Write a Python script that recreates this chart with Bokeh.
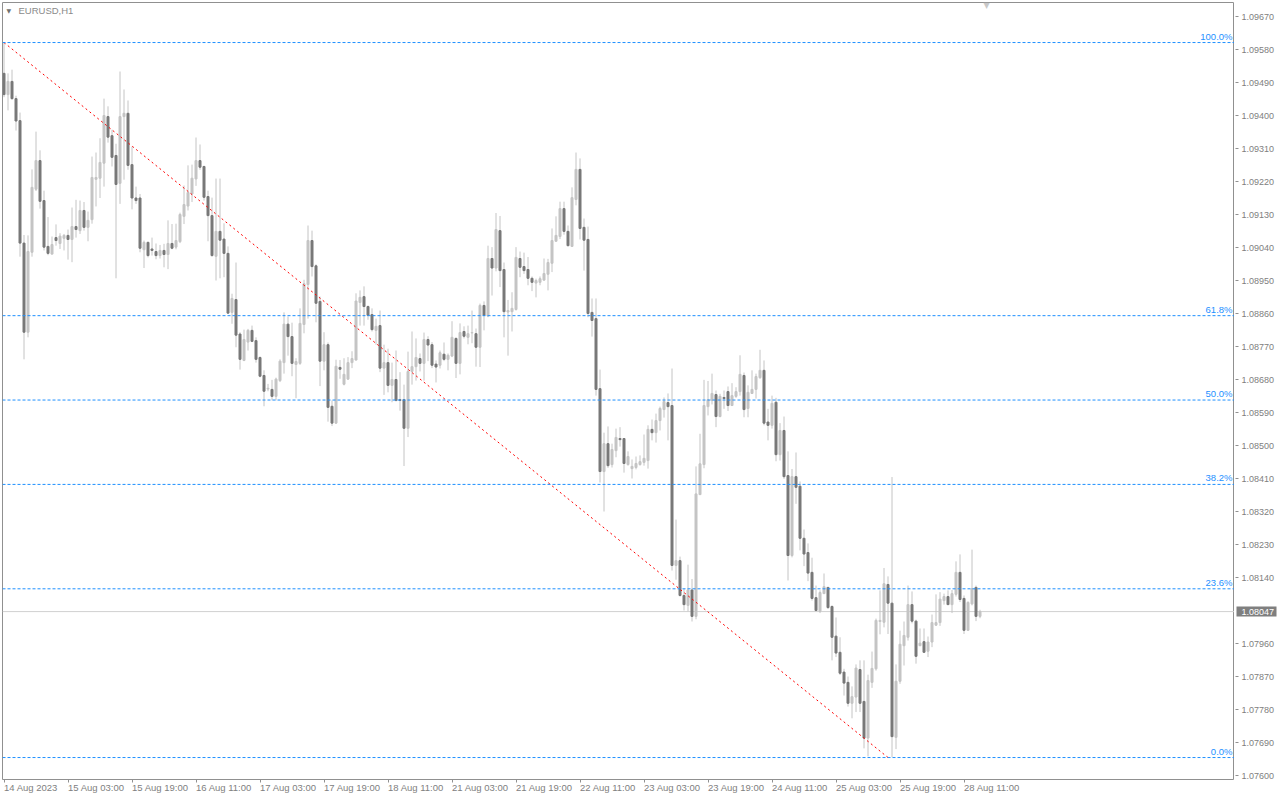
from bokeh.plotting import figure
from bokeh.layouts import row
from bokeh.models import (Range1d, FixedTicker, Span, Label, ColumnDataSource)
from bokeh.core.properties import value
from bokeh.embed import file_html
from bokeh.resources import INLINE

symbol_label = "EURUSD,H1"

# time axis (bar index -> label), one label every 16 H1 bars
tick_bars = [0, 16, 32, 48, 64, 80, 96, 112, 128, 144, 160, 176, 192, 208, 224, 240]
tick_labels = ["14 Aug 2023", "15 Aug 03:00", "15 Aug 19:00", "16 Aug 11:00",
               "17 Aug 03:00", "17 Aug 19:00", "18 Aug 11:00", "21 Aug 03:00",
               "21 Aug 19:00", "22 Aug 11:00", "23 Aug 03:00", "23 Aug 19:00",
               "24 Aug 11:00", "25 Aug 03:00", "25 Aug 19:00", "28 Aug 11:00"]

price_ticks = [1.07600, 1.07690, 1.07780, 1.07870, 1.07960, 1.08140, 1.08230,
               1.08320, 1.08410, 1.08500, 1.08590, 1.08680, 1.08770, 1.08860,
               1.08950, 1.09040, 1.09130, 1.09220, 1.09310, 1.09400, 1.09490,
               1.09580, 1.09670]

opens = [1.09515, 1.09457, 1.09493, 1.09446, 1.09386, 1.09052, 1.08809, 1.09027, 1.09199, 1.09277,
         1.09168, 1.09043, 1.09022, 1.09067, 1.09051, 1.09065, 1.09073, 1.09062, 1.09097, 1.09086,
         1.09141, 1.09095, 1.09116, 1.09226, 1.09229, 1.09270, 1.09397, 1.09345, 1.09291, 1.09215,
         1.09397, 1.09406, 1.09266, 1.09175, 1.09175, 1.09034, 1.09054, 1.09036, 1.09029, 1.09018,
         1.09032, 1.09021, 1.09051, 1.09041, 1.09056, 1.09125, 1.09153, 1.09186, 1.09227, 1.09277,
         1.09261, 1.09179, 1.09127, 1.09016, 1.09084, 1.09063, 1.09024, 1.08863, 1.08898, 1.08804,
         1.08732, 1.08782, 1.08814, 1.08786, 1.08740, 1.08691, 1.08654, 1.08653, 1.08634, 1.08677,
         1.08726, 1.08831, 1.08797, 1.08721, 1.08724, 1.08830, 1.08939, 1.09059, 1.08990, 1.08893,
         1.08730, 1.08775, 1.08607, 1.08561, 1.08713, 1.08667, 1.08681, 1.08726, 1.08733, 1.08890,
         1.08906, 1.08879, 1.08857, 1.08814, 1.08827, 1.08711, 1.08726, 1.08664, 1.08680, 1.08625,
         1.08625, 1.08547, 1.08702, 1.08715, 1.08737, 1.08724, 1.08789, 1.08775, 1.08722, 1.08719,
         1.08749, 1.08735, 1.08744, 1.08792, 1.08724, 1.08811, 1.08795, 1.08807, 1.08805, 1.08768,
         1.08882, 1.08853, 1.09010, 1.08984, 1.09086, 1.08980, 1.08864, 1.08865, 1.08871, 1.09010,
         1.08988, 1.08980, 1.08956, 1.08943, 1.08945, 1.08951, 1.08967, 1.08997, 1.09057, 1.09070,
         1.09146, 1.09084, 1.09043, 1.09171, 1.09253, 1.09095, 1.09062, 1.08863, 1.08846, 1.08655,
         1.08429, 1.08505, 1.08448, 1.08486, 1.08519, 1.08519, 1.08448, 1.08437, 1.08440, 1.08448,
         1.08454, 1.08459, 1.08544, 1.08535, 1.08568, 1.08598, 1.08617, 1.08609, 1.08173, 1.08186,
         1.08091, 1.08064, 1.08106, 1.08034, 1.08366, 1.08448, 1.08606, 1.08623, 1.08639, 1.08579,
         1.08631, 1.08647, 1.08609, 1.08634, 1.08647, 1.08691, 1.08601, 1.08642, 1.08653, 1.08685,
         1.08705, 1.08564, 1.08555, 1.08618, 1.08475, 1.08541, 1.08418, 1.08200, 1.08415, 1.08389,
         1.08247, 1.08208, 1.08154, 1.08085, 1.08048, 1.08096, 1.08113, 1.08061, 1.07980, 1.07936,
         1.07882, 1.07854, 1.07797, 1.07814, 1.07889, 1.07802, 1.07702, 1.07854, 1.07891, 1.08020,
         1.08018, 1.08121, 1.08070, 1.07704, 1.07857, 1.07954, 1.07977, 1.08066, 1.08021, 1.07954,
         1.07965, 1.07939, 1.07964, 1.08010, 1.08017, 1.08077, 1.08088, 1.08066, 1.08094, 1.08154,
         1.08083, 1.07996, 1.08068, 1.08113, 1.08034]

highs = [1.09599, 1.09515, 1.09525, 1.09454, 1.09408, 1.09074, 1.09073, 1.09253, 1.09356, 1.09305,
         1.09195, 1.09123, 1.09070, 1.09103, 1.09079, 1.09077, 1.09089, 1.09149, 1.09170, 1.09168,
         1.09164, 1.09138, 1.09288, 1.09299, 1.09338, 1.09446, 1.09425, 1.09361, 1.09323, 1.09520,
         1.09471, 1.09441, 1.09315, 1.09206, 1.09186, 1.09059, 1.09056, 1.09067, 1.09051, 1.09047,
         1.09050, 1.09114, 1.09104, 1.09105, 1.09135, 1.09209, 1.09264, 1.09266, 1.09340, 1.09321,
         1.09263, 1.09195, 1.09176, 1.09228, 1.09228, 1.09106, 1.09043, 1.08914, 1.08999, 1.08809,
         1.08816, 1.08818, 1.08827, 1.08795, 1.08743, 1.08705, 1.08668, 1.08679, 1.08685, 1.08735,
         1.08863, 1.08852, 1.08835, 1.08738, 1.08874, 1.08952, 1.09100, 1.09086, 1.08994, 1.08906,
         1.08809, 1.08781, 1.08623, 1.08734, 1.08733, 1.08738, 1.08741, 1.08757, 1.08915, 1.08923,
         1.08934, 1.08882, 1.08874, 1.08846, 1.08868, 1.08775, 1.08764, 1.08726, 1.08759, 1.08700,
         1.08666, 1.08756, 1.08811, 1.08792, 1.08751, 1.08808, 1.08798, 1.08782, 1.08732, 1.08759,
         1.08781, 1.08751, 1.08839, 1.08795, 1.08833, 1.08825, 1.08827, 1.08868, 1.08819, 1.08887,
         1.08893, 1.09045, 1.09041, 1.09134, 1.09126, 1.08999, 1.08897, 1.08918, 1.09041, 1.09029,
         1.09026, 1.09014, 1.08961, 1.08955, 1.08961, 1.09010, 1.09009, 1.09092, 1.09125, 1.09165,
         1.09165, 1.09100, 1.09204, 1.09299, 1.09283, 1.09119, 1.09097, 1.08901, 1.08901, 1.08707,
         1.08535, 1.08552, 1.08505, 1.08546, 1.08550, 1.08520, 1.08484, 1.08462, 1.08470, 1.08473,
         1.08530, 1.08555, 1.08571, 1.08587, 1.08606, 1.08631, 1.08642, 1.08710, 1.08298, 1.08197,
         1.08109, 1.08175, 1.08136, 1.08443, 1.08532, 1.08679, 1.08676, 1.08696, 1.08650, 1.08641,
         1.08650, 1.08661, 1.08670, 1.08659, 1.08746, 1.08699, 1.08664, 1.08705, 1.08696, 1.08761,
         1.08732, 1.08600, 1.08636, 1.08630, 1.08561, 1.08579, 1.08484, 1.08436, 1.08481, 1.08402,
         1.08271, 1.08233, 1.08194, 1.08118, 1.08105, 1.08151, 1.08114, 1.08064, 1.08031, 1.07977,
         1.07891, 1.07870, 1.07843, 1.07903, 1.07914, 1.07914, 1.07875, 1.07938, 1.08028, 1.08105,
         1.08166, 1.08143, 1.08414, 1.07903, 1.07995, 1.08020, 1.08118, 1.08102, 1.08025, 1.08001,
         1.08001, 1.07979, 1.08039, 1.08094, 1.08100, 1.08096, 1.08105, 1.08106, 1.08184, 1.08203,
         1.08091, 1.08075, 1.08216, 1.08118, 1.08052]

lows = [1.09450, 1.09414, 1.09443, 1.09359, 1.09015, 1.08735, 1.08795, 1.09015, 1.09194, 1.09146,
        1.09032, 1.09019, 1.09021, 1.09045, 1.09036, 1.09032, 1.09007, 1.09000, 1.09067, 1.09077,
        1.09086, 1.09057, 1.09105, 1.09152, 1.09175, 1.09206, 1.09326, 1.09261, 1.08956, 1.09159,
        1.09225, 1.09252, 1.09144, 1.09159, 1.09027, 1.08984, 1.09013, 1.09018, 1.09008, 1.09010,
        1.08986, 1.08981, 1.09035, 1.09035, 1.09052, 1.09104, 1.09141, 1.09164, 1.09208, 1.09252,
        1.09168, 1.09057, 1.09015, 1.08950, 1.08956, 1.08959, 1.08859, 1.08832, 1.08768, 1.08707,
        1.08730, 1.08759, 1.08782, 1.08726, 1.08686, 1.08607, 1.08648, 1.08623, 1.08623, 1.08673,
        1.08696, 1.08745, 1.08689, 1.08629, 1.08720, 1.08806, 1.08846, 1.08961, 1.08836, 1.08662,
        1.08705, 1.08565, 1.08553, 1.08559, 1.08682, 1.08664, 1.08679, 1.08711, 1.08732, 1.08827,
        1.08827, 1.08843, 1.08811, 1.08775, 1.08700, 1.08638, 1.08645, 1.08618, 1.08620, 1.08595,
        1.08444, 1.08523, 1.08666, 1.08677, 1.08702, 1.08677, 1.08730, 1.08711, 1.08672, 1.08710,
        1.08730, 1.08705, 1.08741, 1.08684, 1.08694, 1.08792, 1.08776, 1.08779, 1.08715, 1.08714,
        1.08814, 1.08850, 1.08909, 1.08975, 1.08932, 1.08795, 1.08745, 1.08811, 1.08868, 1.08959,
        1.08968, 1.08937, 1.08921, 1.08904, 1.08937, 1.08950, 1.08923, 1.08973, 1.09057, 1.09063,
        1.09075, 1.09043, 1.09043, 1.09155, 1.09062, 1.08977, 1.08850, 1.08797, 1.08636, 1.08399,
        1.08320, 1.08439, 1.08440, 1.08468, 1.08497, 1.08426, 1.08445, 1.08410, 1.08435, 1.08445,
        1.08445, 1.08437, 1.08514, 1.08508, 1.08541, 1.08576, 1.08514, 1.08159, 1.08134, 1.08088,
        1.08050, 1.08048, 1.08020, 1.08026, 1.08366, 1.08438, 1.08582, 1.08612, 1.08550, 1.08577,
        1.08600, 1.08594, 1.08609, 1.08630, 1.08636, 1.08577, 1.08577, 1.08641, 1.08628, 1.08682,
        1.08555, 1.08514, 1.08546, 1.08457, 1.08459, 1.08409, 1.08132, 1.08195, 1.08341, 1.08214,
        1.08171, 1.08130, 1.08077, 1.08048, 1.08043, 1.08095, 1.08054, 1.07914, 1.07923, 1.07874,
        1.07818, 1.07788, 1.07756, 1.07773, 1.07773, 1.07674, 1.07652, 1.07839, 1.07886, 1.07985,
        1.08004, 1.07986, 1.07650, 1.07672, 1.07850, 1.07900, 1.07968, 1.08015, 1.07905, 1.07953,
        1.07934, 1.07923, 1.07950, 1.08008, 1.08008, 1.08066, 1.08066, 1.08043, 1.08088, 1.08073,
        1.07986, 1.07994, 1.08064, 1.08021, 1.08029]

closes = [1.09457, 1.09493, 1.09446, 1.09385, 1.09052, 1.08809, 1.09029, 1.09204, 1.09277, 1.09166,
          1.09041, 1.09024, 1.09048, 1.09059, 1.09071, 1.09073, 1.09062, 1.09097, 1.09089, 1.09141,
          1.09095, 1.09114, 1.09231, 1.09231, 1.09272, 1.09400, 1.09341, 1.09286, 1.09212, 1.09397,
          1.09406, 1.09264, 1.09175, 1.09168, 1.09038, 1.09054, 1.09018, 1.09032, 1.09018, 1.09032,
          1.09021, 1.09051, 1.09038, 1.09059, 1.09130, 1.09157, 1.09190, 1.09229, 1.09277, 1.09259,
          1.09177, 1.09127, 1.09018, 1.09084, 1.09060, 1.09024, 1.08861, 1.08901, 1.08801, 1.08735,
          1.08789, 1.08814, 1.08784, 1.08735, 1.08689, 1.08648, 1.08656, 1.08634, 1.08681, 1.08730,
          1.08831, 1.08797, 1.08724, 1.08729, 1.08833, 1.08941, 1.09059, 1.08988, 1.08888, 1.08730,
          1.08775, 1.08604, 1.08561, 1.08716, 1.08708, 1.08694, 1.08726, 1.08737, 1.08894, 1.08904,
          1.08879, 1.08855, 1.08816, 1.08825, 1.08711, 1.08726, 1.08664, 1.08680, 1.08623, 1.08623,
          1.08547, 1.08702, 1.08715, 1.08740, 1.08724, 1.08789, 1.08774, 1.08719, 1.08714, 1.08753,
          1.08735, 1.08746, 1.08795, 1.08724, 1.08808, 1.08798, 1.08805, 1.08808, 1.08768, 1.08882,
          1.08855, 1.09010, 1.08984, 1.09089, 1.08977, 1.08865, 1.08868, 1.08874, 1.09013, 1.08986,
          1.08977, 1.08956, 1.08945, 1.08950, 1.08955, 1.08969, 1.08999, 1.09059, 1.09073, 1.09146,
          1.09084, 1.09045, 1.09176, 1.09253, 1.09092, 1.09060, 1.08860, 1.08841, 1.08653, 1.08429,
          1.08505, 1.08445, 1.08489, 1.08522, 1.08516, 1.08451, 1.08470, 1.08443, 1.08451, 1.08456,
          1.08465, 1.08544, 1.08535, 1.08568, 1.08601, 1.08620, 1.08606, 1.08173, 1.08186, 1.08091,
          1.08066, 1.08106, 1.08034, 1.08368, 1.08450, 1.08609, 1.08625, 1.08642, 1.08579, 1.08634,
          1.08628, 1.08609, 1.08636, 1.08647, 1.08694, 1.08598, 1.08645, 1.08653, 1.08688, 1.08705,
          1.08561, 1.08555, 1.08615, 1.08475, 1.08541, 1.08415, 1.08200, 1.08415, 1.08386, 1.08247,
          1.08204, 1.08152, 1.08083, 1.08050, 1.08099, 1.08115, 1.08058, 1.07977, 1.07934, 1.07879,
          1.07852, 1.07797, 1.07815, 1.07893, 1.07797, 1.07702, 1.07859, 1.07892, 1.08023, 1.08023,
          1.08123, 1.08070, 1.07706, 1.07857, 1.07958, 1.07982, 1.08066, 1.08021, 1.07925, 1.07961,
          1.07936, 1.07964, 1.08017, 1.08017, 1.08081, 1.08088, 1.08066, 1.08096, 1.08154, 1.08080,
          1.07996, 1.08072, 1.08110, 1.08034, 1.08047]

last_price = 1.08047

# Fibonacci retracement anchors
fib_high = 1.09599
fib_low = 1.07649
fib_start_bar = 0
fib_end_bar = 221
fib_ratios = [1.0, 0.618, 0.5, 0.382, 0.236, 0.0]
fib_names = ["100.0%", "61.8%", "50.0%", "38.2%", "23.6%", "0.0%"]

# ---------------------------------------------------------------- styling
BULL = "#C4C4C4"
BEAR = "#787878"
WICK = "#C4C4C4"
FIB = "#1E90FF"
AXIS_TXT = "#808080"
BORDER = "#909090"
FONT = "Liberation Sans"

n = len(opens)
xs = list(range(n))
tops = [max(o, c) for o, c in zip(opens, closes)]
bottoms = [min(o, c) for o, c in zip(opens, closes)]
colors = [BULL if c >= o else BEAR for o, c in zip(opens, closes)]

src = ColumnDataSource(dict(x=xs, high=highs, low=lows, top=tops, bottom=bottoms, color=colors))

yr = Range1d(1.075891, 1.097082)

p = figure(frame_width=1232, frame_height=777,
           x_range=Range1d(-0.375, 307.625), y_range=yr,
           y_axis_location=None,
           output_backend="svg", toolbar_location=None,
           min_border_left=0, min_border_top=0,
           min_border_right=0, min_border_bottom=19,
           background_fill_color="white", border_fill_color="white")
p.grid.visible = False
p.outline_line_color = BORDER
p.outline_line_width = 1

# bid line (behind candles)
p.add_layout(Span(location=last_price, dimension="width", line_color="#D0D0D0",
                  line_width=1, level="underlay"))

p.segment(x0="x", y0="low", x1="x", y1="high", line_color=WICK, line_width=1, source=src)
p.vbar(x="x", width=0.5, top="top", bottom="bottom", fill_color="color",
       line_color="color", line_width=1, source=src)

# fibonacci levels
for r, name in zip(fib_ratios, fib_names):
    lvl = fib_low + r * (fib_high - fib_low)
    p.add_layout(Span(location=lvl, dimension="width", line_color=FIB,
                      line_dash="3 2", line_width=1))
    p.add_layout(Label(x=307.125, y=lvl, text=name, text_align="right",
                       text_baseline="bottom", y_offset=1, text_color=FIB,
                       text_font=FONT, text_font_size="9.5px"))

# trend (fibo base) line
p.line(x=[fib_start_bar, fib_end_bar], y=[fib_high, fib_low],
       line_color="#FF0000", line_dash="2 3", line_width=1)

# time axis
xa = p.xaxis[0]
xa.ticker = FixedTicker(ticks=tick_bars)
xa.major_label_overrides = {b: t for b, t in zip(tick_bars, tick_labels)}
xa.major_label_orientation = -0.0001
xa.axis_line_color = None
xa.major_tick_line_color = BORDER
xa.major_tick_out = 3
xa.major_tick_in = 0
xa.minor_tick_line_color = None
xa.major_label_standoff = 5
xa.major_label_text_font = FONT
xa.major_label_text_font_size = "9.5px"
xa.major_label_text_color = AXIS_TXT

# symbol caption
p.add_layout(Label(x=4, y=769, x_units="screen", y_units="screen", text="\u25BC",
                   text_color="#707070", text_font="DejaVu Sans", text_font_size="6px",
                   text_baseline="middle"))
p.add_layout(Label(x=16, y=769, x_units="screen", y_units="screen", text=symbol_label,
                   text_color="#8A8A8A", text_font=FONT, text_font_size="9.5px",
                   text_baseline="middle"))
# chart-shift marker
p.add_layout(Label(x=984, y=774, x_units="screen", y_units="screen", text="\u25BC",
                   text_color="#C8C8C8", text_font="DejaVu Sans", text_font_size="8px",
                   text_align="center", text_baseline="middle"))

# ---------------------------------------------------------------- price scale
scale = figure(frame_width=44, frame_height=777,
               x_range=Range1d(0, 44), y_range=yr,
               x_axis_location=None, y_axis_location=None,
               output_backend="svg", toolbar_location=None,
               min_border_left=0, min_border_top=0,
               min_border_right=0, min_border_bottom=19,
               background_fill_color="white", border_fill_color="white",
               outline_line_color=None)
scale.grid.visible = False

psrc = ColumnDataSource(dict(y=price_ticks, label=["%.5f" % v for v in price_ticks]))
scale.segment(x0=1, y0="y", x1=4, y1="y", line_color=BORDER, line_width=1, source=psrc)
scale.text(x=7, y="y", text="label", text_baseline="middle", text_align="left",
           text_color=AXIS_TXT, text_font=value(FONT), text_font_size="9px", source=psrc)

scale.rect(x=[22], y=[last_price], width=40, height=10, height_units="screen",
           fill_color="#7F7F7F", line_color=None)
scale.text(x=[7], y=[last_price], text=["%.5f" % last_price], text_baseline="middle",
           text_align="left", text_color="white", text_font=value(FONT),
           text_font_size="9px")

layout = row(p, scale)
layout.styles = {"margin-left": "2px", "margin-top": "2px"}

open("out.html", "w").write(file_html(layout, INLINE))
